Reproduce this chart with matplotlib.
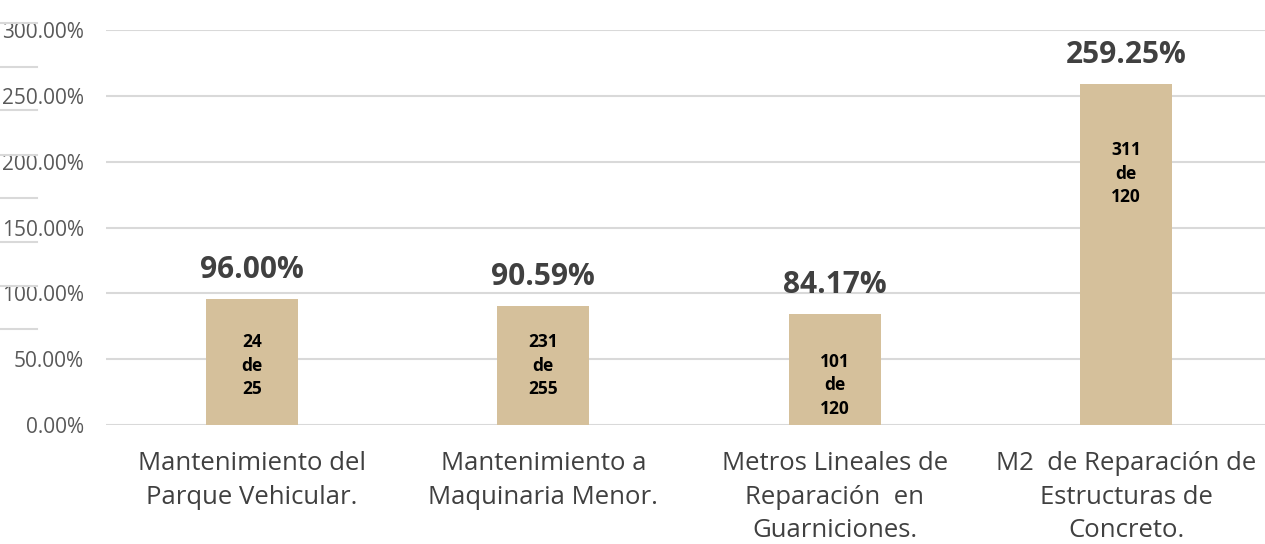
import matplotlib.pyplot as plt
from matplotlib.lines import Line2D

# datos del grafico
categorias = [
    "Mantenimiento del\nParque Vehicular.",
    "Mantenimiento a\nMaquinaria Menor.",
    "Metros Lineales de\nReparación  en\nGuarniciones.",
    "M2  de Reparación de\nEstructuras de\nConcreto.",
]
porcentajes = [96.00, 90.59, 84.17, 259.25]
realizados = [24, 231, 101, 311]
metas = [25, 255, 120, 120]
# altura (en %) donde va el texto "x de y" dentro de cada barra
y_texto_interno = [45, 45, 30, 191]

color_barra = "#D5C09B"
gris_texto = "#404040"
gris_ejes = "#595959"
gris_linea = "#D9D9D9"

W, H = 1265, 544
fig = plt.figure(figsize=(W / 100, H / 100), dpi=100)
ax = fig.add_axes([106 / W, 1 - 425 / H, 1 - 106 / W, (425 - 30) / H])

x = list(range(len(categorias)))
ax.bar(x, porcentajes, width=0.316, color=color_barra, zorder=3)

ax.set_ylim(0, 300)
ax.set_xlim(-0.5, 3.5 - 7 / 291.5)
ax.set_yticks([0, 50, 100, 150, 200, 250, 300])
ax.set_yticklabels([f"{v:.2f}%" for v in [0, 50, 100, 150, 200, 250, 300]],
                   fontfamily="Open Sans", fontsize=15, color=gris_ejes)
ax.tick_params(axis="y", length=0, pad=16)
ax.set_xticks(x)
ax.set_xticklabels(categorias, fontfamily="Open Sans", fontsize=18.5,
                   color=gris_texto, linespacing=1.45)
ax.tick_params(axis="x", length=0, pad=19)

ax.grid(axis="y", color=gris_linea, linewidth=1.5, zorder=0)
for s in ax.spines.values():
    s.set_visible(False)

# etiquetas de porcentaje sobre las barras
for xi, p in zip(x, porcentajes):
    ax.annotate(f"{p:.2f}%", (xi, p), xytext=(0, 10), textcoords="offset points",
                ha="center", va="bottom", fontsize=21.5, fontweight="bold",
                fontfamily="Open Sans", color=gris_texto)

# texto "x de y" dentro de las barras
for xi, r, m, yt in zip(x, realizados, metas, y_texto_interno):
    ax.text(xi, yt, f"{r}\nde\n{m}", ha="center", va="center", fontsize=12.5,
            fontweight="bold", fontfamily="Open Sans", color="black",
            linespacing=1.4, zorder=4)

# rayitas grises a la izquierda
for yp in [23, 67, 110, 155, 198, 242, 286, 329]:
    fig.add_artist(Line2D([0, 37 / W], [1 - yp / H, 1 - yp / H],
                          color=gris_linea, linewidth=1.5))

fig.savefig("out.png", dpi=100)
